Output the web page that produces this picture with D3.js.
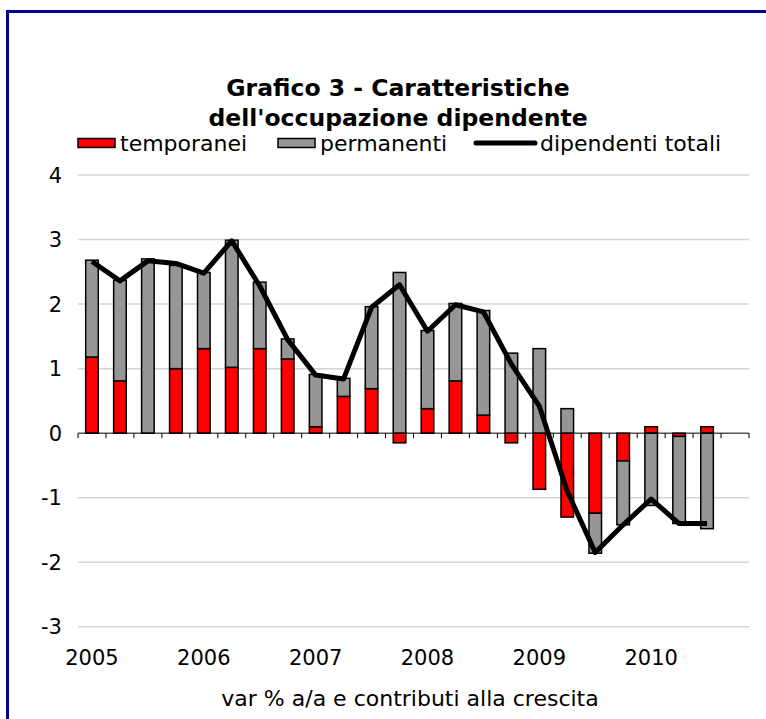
<!DOCTYPE html>
<html>
<head>
<meta charset="utf-8">
<script src="https://cdn.jsdelivr.net/npm/d3@7"></script>
<style>
  body { margin: 0; background: #fff; }
  text { font-family: Verdana, "DejaVu Sans", sans-serif; fill: #000; }
</style>
</head>
<body>
<div id="chart"></div>
<script>
var width = 766, height = 719;

// quarters 2005Q1 .. 2010Q4 (last one empty)
var years = ["2005", "2006", "2007", "2008", "2009", "2010"];
var quarters = [];
years.forEach(function(y) { ["Q1","Q2","Q3","Q4"].forEach(function(q){ quarters.push(y + q); }); });

var temporanei = [1.18, 0.81, 0.00, 1.00, 1.31, 1.02, 1.31, 1.15, 0.10, 0.57, 0.69, -0.15,
                  0.38, 0.81, 0.28, -0.15, -0.87, -1.30, -1.24, -0.43, 0.10, -0.05, 0.10];
var permanenti = [1.50, 1.56, 2.70, 1.60, 1.18, 1.97, 1.03, 0.31, 0.81, 0.28, 1.27, 2.49,
                  1.21, 1.20, 1.62, 1.24, 1.31, 0.38, -0.62, -0.99, -1.12, -1.35, -1.48];
var totali     = [2.66, 2.36, 2.67, 2.63, 2.48, 2.98, 2.28, 1.45, 0.90, 0.84, 1.95, 2.30,
                  1.58, 1.99, 1.88, 1.07, 0.42, -0.90, -1.85, -1.42, -1.02, -1.40, -1.40];
var yTicks = [-3, -2, -1, 0, 1, 2, 3, 4];

var svg = d3.select("#chart").append("svg")
    .attr("width", width)
    .attr("height", height);

// outer frame
svg.append("rect")
    .attr("x", 7.5).attr("y", 11.5)
    .attr("width", 800).attr("height", 800)
    .attr("fill", "none")
    .attr("stroke", "#00008b")
    .attr("stroke-width", 3);

var x = d3.scaleBand().domain(quarters).range([78, 749]).paddingInner(0.55).paddingOuter(0.275);
var y = d3.scaleLinear().domain([-3, 4]).range([626.8, 175]);

// title
svg.append("text").attr("x", 398).attr("y", 96).attr("text-anchor", "middle")
    .style("font-size", "23.5px").style("font-weight", "bold")
    .text("Grafico 3 - Caratteristiche");
svg.append("text").attr("x", 398).attr("y", 126).attr("text-anchor", "middle")
    .style("font-size", "23.5px").style("font-weight", "bold")
    .text("dell'occupazione dipendente");

// gridlines
svg.append("g").selectAll("line")
    .data(yTicks.filter(function(d){ return d !== 0; }))
    .enter().append("line")
    .attr("x1", 78).attr("x2", 749)
    .attr("y1", function(d){ return y(d); })
    .attr("y2", function(d){ return y(d); })
    .attr("stroke", "#d4d4d4")
    .attr("stroke-width", 1.5);

// y labels
svg.append("g").selectAll("text")
    .data(yTicks)
    .enter().append("text")
    .attr("x", 62)
    .attr("y", function(d){ return y(d) + 7.5; })
    .attr("text-anchor", "end")
    .style("font-size", "21px")
    .text(function(d){ return d; });

// stacked bars
var rows = quarters.slice(0, temporanei.length).map(function(q, i) {
    return { q: q, temporanei: temporanei[i], permanenti: permanenti[i] };
});
var series = d3.stack().keys(["temporanei", "permanenti"])
    .offset(d3.stackOffsetDiverging)(rows);
var colors = { temporanei: "#ff0000", permanenti: "#969696" };

svg.append("g").selectAll("g")
    .data(series)
    .enter().append("g")
    .attr("fill", function(d){ return colors[d.key]; })
    .selectAll("rect")
    .data(function(d){ return d; })
    .enter().append("rect")
    .attr("x", function(d){ return x(d.data.q); })
    .attr("width", x.bandwidth())
    .attr("y", function(d){ return y(Math.max(d[0], d[1])); })
    .attr("height", function(d){ return Math.abs(y(d[0]) - y(d[1])); })
    .attr("stroke", "#000")
    .attr("stroke-width", 1.5);

// zero axis with ticks between categories
var axis = svg.append("g");
axis.append("line")
    .attr("x1", 78).attr("x2", 749)
    .attr("y1", y(0)).attr("y2", y(0))
    .attr("stroke", "#000").attr("stroke-width", 1);
axis.selectAll("line.tick")
    .data(d3.range(quarters.length + 1))
    .enter().append("line")
    .attr("class", "tick")
    .attr("x1", function(i){ return 78 + i * x.step(); })
    .attr("x2", function(i){ return 78 + i * x.step(); })
    .attr("y1", y(0)).attr("y2", y(0) + 5)
    .attr("stroke", "#000").attr("stroke-width", 1);

// total line
var line = d3.line()
    .x(function(d, i){ return x(quarters[i]) + x.bandwidth() / 2; })
    .y(function(d){ return y(d); });
svg.append("path")
    .datum(totali)
    .attr("d", line)
    .attr("fill", "none")
    .attr("stroke", "#000")
    .attr("stroke-width", 5)
    .attr("stroke-linejoin", "round");

// year labels under first quarter
svg.append("g").selectAll("text")
    .data(years)
    .enter().append("text")
    .attr("x", function(d){ return x(d + "Q1") + x.bandwidth() / 2; })
    .attr("y", 665)
    .attr("text-anchor", "middle")
    .style("font-size", "21px")
    .text(function(d){ return d; });

svg.append("text").attr("x", 410).attr("y", 706).attr("text-anchor", "middle")
    .style("font-size", "22px")
    .text("var % a/a e contributi alla crescita");

// legend
var legendItems = [
    { name: "temporanei", type: "rect", color: "#ff0000", x: 78, w: 37 },
    { name: "permanenti", type: "rect", color: "#969696", x: 278, w: 37 },
    { name: "dipendenti totali", type: "line", color: "#000", x: 476, w: 59 }
];
var ly = 143;
var legend = svg.append("g").selectAll("g")
    .data(legendItems)
    .enter().append("g");
legend.filter(function(d){ return d.type === "rect"; })
    .append("rect")
    .attr("x", function(d){ return d.x; }).attr("y", ly - 4.5)
    .attr("width", function(d){ return d.w; }).attr("height", 9)
    .attr("fill", function(d){ return d.color; })
    .attr("stroke", "#000").attr("stroke-width", 1.5);
legend.filter(function(d){ return d.type === "line"; })
    .append("line")
    .attr("x1", function(d){ return d.x; })
    .attr("x2", function(d){ return d.x + d.w; })
    .attr("y1", ly).attr("y2", ly)
    .attr("stroke", "#000").attr("stroke-width", 5)
    .attr("stroke-linecap", "round");
legend.append("text")
    .attr("x", function(d){ return d.x + d.w + 5; })
    .attr("y", ly + 8)
    .style("font-size", "22px")
    .text(function(d){ return d.name; });
</script>
</body>
</html>
